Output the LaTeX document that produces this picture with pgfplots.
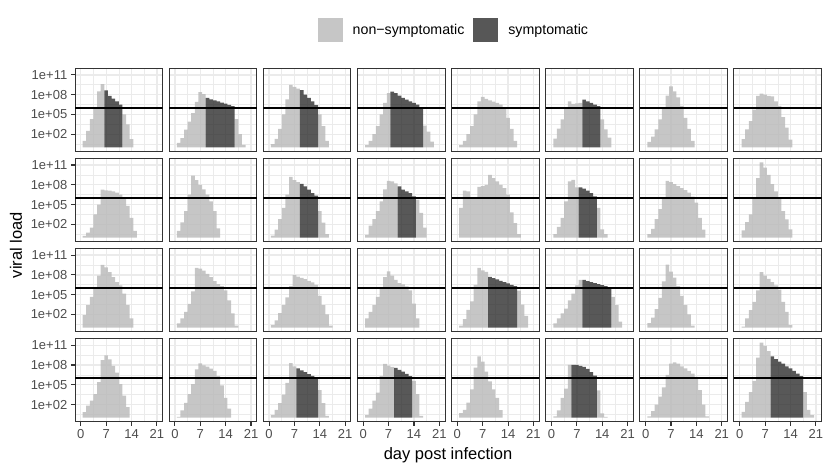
\documentclass[border=0pt]{standalone}
\usepackage{pgfplots}
\pgfplotsset{compat=1.18}
\usepackage{fontspec}
\setmainfont{Liberation Sans}
\definecolor{lightfill}{HTML}{B8B8B8}
\definecolor{darkfill}{HTML}{2E2E2E}
\definecolor{lightkey}{HTML}{C6C6C6}
\definecolor{darkkey}{HTML}{575757}
\definecolor{gridc}{HTML}{EBEBEB}
\definecolor{framec}{HTML}{333333}
\definecolor{ticklab}{HTML}{4D4D4D}
\pgfplotsset{
  panel/.style 2 args={
    at={({75pt+#1*94.14pt},{403.5pt-#2*90.1pt})}, anchor=north west,
    scale only axis, width=87.7pt, height=82.7pt,
    xmin=-1.6, xmax=22.6, ymin=-0.57, ymax=11.97, enlargelimits=false,
    xtick={0,7,14,21}, minor xtick={3.5,10.5,17.5},
    ytick={2,5,8,11}, minor ytick={0.5,3.5,6.5,9.5},
    grid=both,
    major grid style={gridc, line width=1.3pt},
    minor grid style={gridc, line width=0.65pt},
    axis line style={framec, line width=1pt},
    tick align=outside, tick pos=left,
    major tick length=4.2pt, minor tick length=0pt,
    xtick style={draw=none}, ytick style={draw=none},
    xticklabels={}, yticklabels={},
    tick label style={font=\fontsize{13}{15}\selectfont, text=ticklab},
  },
  leftcol/.style={ytick style={draw=framec, line width=1.1pt}, yticklabels={1e+02,1e+05,1e+08,1e+11}},
  bottomrow/.style={xtick style={draw=framec, line width=1.1pt}, xticklabels={0,7,14,21}},
  lb/.style={ybar, bar width=1, bar shift=0pt, fill=lightfill, fill opacity=0.8, draw=none,
    legend image code/.code={\fill[lightkey, fill opacity=1, opacity=1] (0pt,-11.7pt) rectangle (25pt,11.7pt);}},
  db/.style={ybar, bar width=1, bar shift=0pt, fill=darkfill, fill opacity=0.8, draw=none,
    legend image code/.code={\fill[darkkey, fill opacity=1, opacity=1] (0pt,-11.7pt) rectangle (25pt,11.7pt);}},
}
\newcommand{\hl}{\addplot[black, line width=1.5pt, forget plot] coordinates {(-1.6,6) (22.6,6)};}
\begin{document}
\begin{tikzpicture}
\path[use as bounding box] (0pt,0pt) rectangle (830pt,472pt);
% ---------------- row 1
\begin{axis}[panel={0}{0}, leftcol,
  legend columns=2,
  legend style={at={(4.309,1.466)}, anchor=center, draw=none, fill=none,
    font=\fontsize{14.2}{16}\selectfont, nodes={inner sep=0pt},
    /tikz/every even column/.append style={column sep=9pt},
    /tikz/every odd column/.append style={column sep=10pt}},
  legend cell align=left]
\addplot[lb] coordinates {(1,1.0)(2,2.5)(3,4.3)(4,6.0)(5,8.5)(6,9.6)(12,5.0)(13,3.5)(14,1.25)};
\addlegendentry{non−symptomatic}
\addplot[db] coordinates {(7,8.65)(8,7.8)(9,7.4)(10,7.0)(11,6.5)};
\addlegendentry{symptomatic}
\hl
\end{axis}
\begin{axis}[panel={1}{0}]
\addplot[lb] coordinates {(1,0.7)(2,1.4)(3,2.7)(4,3.9)(5,5.2)(6,6.9)(7,8.4)(8,8.1)(17,4.3)(18,2.0)(19,0.4)};
\addplot[db] coordinates {(9,7.5)(10,7.3)(11,7.15)(12,7.0)(13,6.8)(14,6.65)(15,6.45)(16,6.25)};
\hl
\end{axis}
\begin{axis}[panel={2}{0}]
\addplot[lb] coordinates {(1,0.5)(2,1.3)(3,2.8)(4,5.0)(5,7.3)(6,9.5)(7,9.2)(8,8.9)(14,5.0)(15,3.25)(16,1.0)};
\addplot[db] coordinates {(9,8.7)(10,8.0)(11,7.5)(12,7.0)(13,6.4)};
\hl
\end{axis}
\begin{axis}[panel={3}{0}]
\addplot[lb] coordinates {(1,0.35)(2,1.0)(3,2.0)(4,3.25)(5,5.0)(6,6.75)(7,8.25)(17,3.3)(18,2.4)(19,0.9)};
\addplot[db] coordinates {(8,8.45)(9,8.25)(10,7.85)(11,7.5)(12,7.25)(13,7.0)(14,6.75)(15,6.5)(16,6.1)};
\hl
\end{axis}
\begin{axis}[panel={4}{0}]
\addplot[lb] coordinates {(1,0.35)(2,1.0)(3,2.0)(4,3.25)(5,5.0)(6,7.0)(7,7.65)(8,7.35)(9,7.15)(10,6.95)(11,6.75)(12,6.5)(13,6.1)(14,4.5)(15,2.8)(16,1.0)};
\hl
\end{axis}
\begin{axis}[panel={5}{0}]
\addplot[lb] coordinates {(1,1.35)(2,2.85)(3,4.25)(4,5.85)(5,7.0)(6,6.6)(7,6.7)(8,6.75)(14,4.25)(15,2.75)(16,1.5)};
\addplot[db] coordinates {(9,7.25)(10,7.0)(11,6.75)(12,6.5)(13,6.25)};
\hl
\end{axis}
\begin{axis}[panel={6}{0}]
\addplot[lb] coordinates {(1,0.85)(2,1.65)(3,2.75)(4,4.25)(5,5.85)(6,7.85)(7,9.25)(8,8.5)(9,7.6)(10,6.3)(11,4.5)(12,2.8)(13,1.0)};
\hl
\end{axis}
\begin{axis}[panel={7}{0}]
\addplot[lb] coordinates {(1,1.25)(2,2.75)(3,4.0)(4,5.75)(5,7.8)(6,8.15)(7,8.0)(8,7.8)(9,7.75)(10,7.0)(11,6.3)(12,4.6)(13,3.0)(14,1.2)};
\hl
\end{axis}
% ---------------- row 2
\begin{axis}[panel={0}{1}, leftcol]
\addplot[lb] coordinates {(1,0.25)(2,0.75)(3,1.5)(4,3.5)(5,5.0)(6,7.25)(7,7.15)(8,7.1)(9,7.0)(10,6.8)(11,6.5)(12,6.0)(13,4.8)(14,3.0)(15,1.0)};
\hl
\end{axis}
\begin{axis}[panel={1}{1}]
\addplot[lb] coordinates {(1,1.0)(2,2.3)(3,4.0)(4,6.5)(5,9.4)(6,8.7)(7,8.0)(8,7.3)(9,6.5)(10,5.5)(11,4.0)(12,1.4)};
\hl
\end{axis}
\begin{axis}[panel={2}{1}]
\addplot[lb] coordinates {(1,0.3)(2,1.2)(3,2.8)(4,4.5)(5,6.5)(6,9.2)(7,8.7)(8,8.4)(14,4.0)(15,2.25)(16,0.5)};
\addplot[db] coordinates {(9,8.15)(10,7.75)(11,7.25)(12,6.75)(13,6.35)};
\hl
\end{axis}
\begin{axis}[panel={3}{1}]
\addplot[lb] coordinates {(1,0.4)(2,1.8)(3,2.8)(4,4.0)(5,5.5)(6,7.3)(7,8.6)(8,8.5)(9,8.2)(15,5.75)(16,3.75)(17,1.5)};
\addplot[db] coordinates {(10,7.75)(11,7.25)(12,7.0)(13,6.75)(14,6.25)};
\hl
\end{axis}
\begin{axis}[panel={4}{1}]
\addplot[lb] coordinates {(1,4.5)(2,7.1)(3,7.0)(4,6.0)(5,6.0)(6,7.7)(7,7.8)(8,8.0)(9,9.5)(10,9.0)(11,8.5)(12,8.0)(13,7.5)(14,6.5)(15,3.8)(16,2.2)(17,0.5)};
\hl
\end{axis}
\begin{axis}[panel={5}{1}]
\addplot[lb] coordinates {(1,0.5)(2,1.6)(3,3.0)(4,5.5)(5,8.5)(6,8.75)(7,7.6)(13,4.5)(14,1.25)(15,0.5)};
\addplot[db] coordinates {(8,7.6)(9,7.4)(10,7.1)(11,6.75)(12,6.25)};
\hl
\end{axis}
\begin{axis}[panel={6}{1}]
\addplot[lb] coordinates {(1,0.5)(2,1.3)(3,2.8)(4,4.3)(5,6.0)(6,8.6)(7,8.4)(8,8.1)(9,7.8)(10,7.5)(11,7.2)(12,6.8)(13,6.2)(14,5.3)(15,3.0)(16,1.2)};
\hl
\end{axis}
\begin{axis}[panel={7}{1}]
\addplot[lb] coordinates {(1,1.1)(2,2.35)(3,3.5)(4,6.0)(5,9.0)(6,11.4)(7,10.6)(8,9.5)(9,8.1)(10,7.0)(11,6.0)(12,4.0)(13,2.75)(14,1.25)};
\hl
\end{axis}
% ---------------- row 3
\begin{axis}[panel={0}{2}, leftcol]
\addplot[lb] coordinates {(1,1.9)(2,3.4)(3,4.65)(4,6.15)(5,7.9)(6,9.5)(7,9.15)(8,8.4)(9,7.65)(10,6.9)(11,6.4)(12,5.15)(13,3.4)(14,1.4)};
\hl
\end{axis}
\begin{axis}[panel={1}{2}]
\addplot[lb] coordinates {(1,0.65)(2,1.4)(3,2.4)(4,3.6)(5,5.5)(6,9.05)(7,8.95)(8,8.65)(9,8.15)(10,7.65)(11,7.05)(12,6.6)(13,6.3)(14,5.65)(15,4.15)(16,2.15)(17,0.3)};
\hl
\end{axis}
\begin{axis}[panel={2}{2}]
\addplot[lb] coordinates {(1,0.4)(2,1.1)(3,2.2)(4,3.4)(5,4.6)(6,6.3)(7,7.95)(8,7.75)(9,7.55)(10,7.35)(11,7.1)(12,6.85)(13,6.5)(14,4.8)(15,3.4)(16,2.0)(17,0.3)};
\hl
\end{axis}
\begin{axis}[panel={3}{2}]
\addplot[lb] coordinates {(1,1.4)(2,2.4)(3,3.4)(4,4.65)(5,5.9)(6,7.65)(7,8.55)(8,7.9)(9,7.25)(10,6.75)(11,6.55)(12,6.25)(13,5.65)(14,3.65)(15,1.4)};
\hl
\end{axis}
\begin{axis}[panel={4}{2}]
\addplot[lb] coordinates {(1,0.3)(2,1.3)(3,2.7)(4,4.0)(5,6.5)(6,9.05)(7,8.7)(8,8.45)(17,5.6)(18,3.5)(19,1.8)};
\addplot[db] coordinates {(9,7.7)(10,7.5)(11,7.3)(12,7.1)(13,6.9)(14,6.7)(15,6.5)(16,6.3)};
\hl
\end{axis}
\begin{axis}[panel={5}{2}]
\addplot[lb] coordinates {(1,0.65)(2,1.4)(3,2.15)(4,2.9)(5,4.15)(6,5.15)(7,6.4)(8,7.25)(17,4.65)(18,3.4)(19,0.9)};
\addplot[db] coordinates {(9,7.25)(10,7.05)(11,6.9)(12,6.75)(13,6.6)(14,6.45)(15,6.3)(16,6.15)};
\hl
\end{axis}
\begin{axis}[panel={6}{2}]
\addplot[lb] coordinates {(1,0.7)(2,1.5)(3,2.8)(4,4.5)(5,7.0)(6,9.55)(7,8.5)(8,7.6)(9,6.3)(10,4.8)(11,3.4)(12,2.0)(13,0.3)};
\hl
\end{axis}
\begin{axis}[panel={7}{2}]
\addplot[lb] coordinates {(1,0.15)(2,1.4)(3,2.65)(4,3.9)(5,5.65)(6,8.4)(7,7.9)(8,7.4)(9,6.9)(10,6.4)(11,5.75)(12,3.9)(13,2.4)(14,0.4)};
\hl
\end{axis}
% ---------------- row 4
\begin{axis}[panel={0}{3}, leftcol, bottomrow]
\addplot[lb] coordinates {(1,0.85)(2,1.85)(3,2.6)(4,3.6)(5,5.4)(6,8.75)(7,9.45)(8,8.85)(9,7.85)(10,6.85)(11,5.1)(12,3.35)(13,1.6)};
\hl
\end{axis}
\begin{axis}[panel={1}{3}, bottomrow]
\addplot[lb] coordinates {(1,0.15)(2,1.1)(3,2.25)(4,3.6)(5,5.1)(6,7.35)(7,8.25)(8,7.95)(9,7.75)(10,7.45)(11,7.1)(12,6.3)(13,4.9)(14,3.0)(15,1.4)};
\hl
\end{axis}
\begin{axis}[panel={2}{3}, bottomrow]
\addplot[lb] coordinates {(1,0.4)(2,1.2)(3,2.2)(4,3.5)(5,5.3)(6,8.3)(7,7.8)(14,4.2)(15,2.2)(16,0.3)};
\addplot[db] coordinates {(8,7.5)(9,7.2)(10,6.9)(11,6.6)(12,6.35)(13,6.15)};
\hl
\end{axis}
\begin{axis}[panel={3}{3}, bottomrow]
\addplot[lb] coordinates {(1,0.4)(2,1.4)(3,2.6)(4,3.8)(5,6.3)(6,8.15)(7,7.9)(8,7.7)(14,5.6)(15,3.6)(16,0.3)};
\addplot[db] coordinates {(9,7.55)(10,7.25)(11,7.0)(12,6.65)(13,6.3)};
\hl
\end{axis}
\begin{axis}[panel={4}{3}, bottomrow]
\addplot[lb] coordinates {(1,0.7)(2,1.2)(3,2.3)(4,4.3)(5,7.6)(6,9.3)(7,8.5)(8,7.0)(9,5.5)(10,4.3)(11,3.0)(12,1.15)};
\hl
\end{axis}
\begin{axis}[panel={5}{3}, bottomrow]
\addplot[lb] coordinates {(1,0.2)(2,1.1)(3,3.0)(4,4.4)(5,8.0)(13,4.15)(14,0.65)(15,0.15)};
\addplot[db] coordinates {(6,8.0)(7,8.0)(8,7.85)(9,7.7)(10,7.4)(11,6.9)(12,6.4)};
\hl
\end{axis}
\begin{axis}[panel={6}{3}, bottomrow]
\addplot[lb] coordinates {(1,0.2)(2,1.0)(3,2.0)(4,3.2)(5,4.6)(6,6.5)(7,8.2)(8,8.4)(9,8.2)(10,7.8)(11,7.5)(12,7.1)(13,6.7)(14,6.2)(15,4.2)(16,2.0)(17,0.2)};
\hl
\end{axis}
\begin{axis}[panel={7}{3}, bottomrow]
\addplot[lb] coordinates {(1,0.9)(2,2.4)(3,3.9)(4,5.6)(5,9.1)(6,11.4)(7,10.9)(8,10.1)(18,3.9)(19,1.2)(20,0.4)};
\addplot[db] coordinates {(9,9.3)(10,8.9)(11,8.5)(12,8.2)(13,7.8)(14,7.5)(15,7.1)(16,6.7)(17,6.3)};
\hl
\end{axis}
% axis titles
\node[font=\fontsize{16.5}{18}\selectfont] at (448pt,17pt) {day post infection};
\node[font=\fontsize{16.5}{18}\selectfont, rotate=90] at (16pt,227pt) {viral load};
\end{tikzpicture}
\end{document}
